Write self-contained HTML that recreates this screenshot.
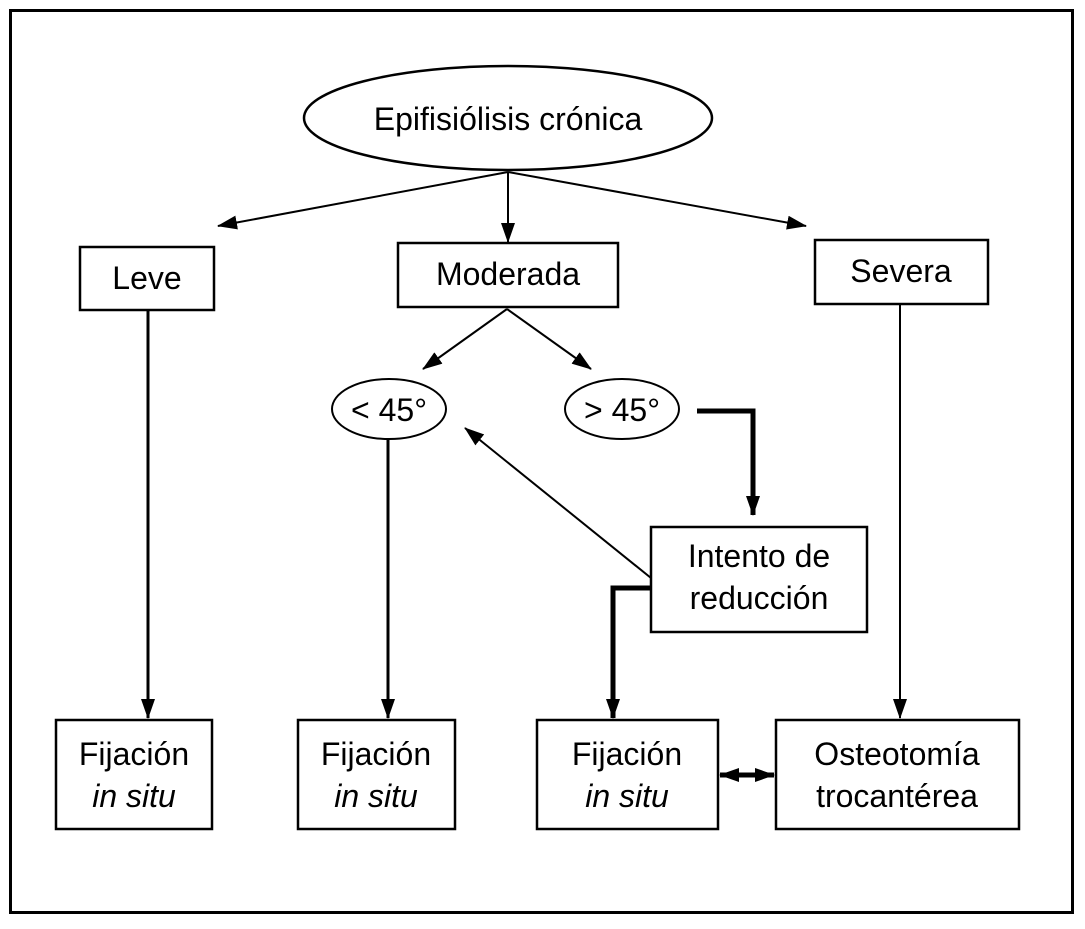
<!DOCTYPE html>
<html><head><style>
body{margin:0;background:#fff}
svg text{font-family:"Liberation Sans",sans-serif;font-size:32px;fill:#000}
</style></head><body>
<svg width="1085" height="924" viewBox="0 0 1085 924" xmlns="http://www.w3.org/2000/svg">
<defs>
<marker id="a" markerWidth="10" markerHeight="8" refX="9" refY="4" orient="auto" markerUnits="userSpaceOnUse" viewBox="0 0 10 8"><path d="M0,0L10,4L0,8z"/></marker>
<marker id="b" markerWidth="20" markerHeight="14" refX="19" refY="7" orient="auto-start-reverse" markerUnits="userSpaceOnUse" viewBox="0 0 20 14"><path d="M0,0L20,7L0,14z"/></marker>
</defs>
<rect x="10.5" y="10.5" width="1062" height="902" fill="none" stroke="#000" stroke-width="3"/>
<g fill="none" stroke="#000" stroke-width="2.5">
<ellipse cx="508" cy="118" rx="204" ry="52"/>
<rect x="80" y="247" width="134" height="63"/>
<rect x="398" y="243" width="220" height="64"/>
<rect x="815" y="240" width="173" height="64"/>
<ellipse cx="389" cy="409" rx="57" ry="30" stroke-width="2"/>
<ellipse cx="622" cy="409" rx="57" ry="30" stroke-width="2"/>
<rect x="651" y="527" width="216" height="105"/>
<rect x="56" y="720" width="156" height="109"/>
<rect x="298" y="720" width="157" height="109"/>
<rect x="537" y="720" width="181" height="109"/>
<rect x="776" y="720" width="243" height="109"/>
</g>
<g stroke="#000" stroke-width="2" fill="none">
<line x1="508" y1="172" x2="218" y2="226" marker-end="url(#b)"/>
<line x1="508" y1="172" x2="508" y2="242" marker-end="url(#b)"/>
<line x1="508" y1="172" x2="806" y2="226" marker-end="url(#b)"/>
<line x1="507" y1="309" x2="423" y2="369" marker-end="url(#b)"/>
<line x1="507" y1="309" x2="591" y2="369" marker-end="url(#b)"/>
<line x1="148" y1="310" x2="148" y2="718" stroke-width="3" marker-end="url(#b)"/>
<line x1="388" y1="439" x2="388" y2="718" stroke-width="3" marker-end="url(#b)"/>
<line x1="900" y1="304" x2="900" y2="718" marker-end="url(#b)"/>
<line x1="651" y1="578" x2="465" y2="428" marker-end="url(#b)"/>
<polyline points="697,411 753,411 753,515" stroke-width="5" marker-end="url(#b)"/>
<polyline points="651,588 613,588 613,718" stroke-width="5" marker-end="url(#b)"/>
<line x1="720" y1="775" x2="774" y2="775" stroke-width="5" marker-start="url(#b)" marker-end="url(#b)"/>
</g>
<g text-anchor="middle">
<text x="508" y="130">Epifisiólisis crónica</text>
<text x="147" y="289">Leve</text>
<text x="508" y="285">Moderada</text>
<text x="901" y="282">Severa</text>
<text x="389" y="421">&lt; 45°</text>
<text x="622" y="421">&gt; 45°</text>
<text x="759" y="567">Intento de</text>
<text x="759" y="609">reducción</text>
<text x="134" y="765">Fijación</text>
<text x="134" y="807" font-style="italic">in situ</text>
<text x="376" y="765">Fijación</text>
<text x="376" y="807" font-style="italic">in situ</text>
<text x="627" y="765">Fijación</text>
<text x="627" y="807" font-style="italic">in situ</text>
<text x="897" y="765">Osteotomía</text>
<text x="897" y="807">trocantérea</text>
</g>
</svg>
</body></html>
